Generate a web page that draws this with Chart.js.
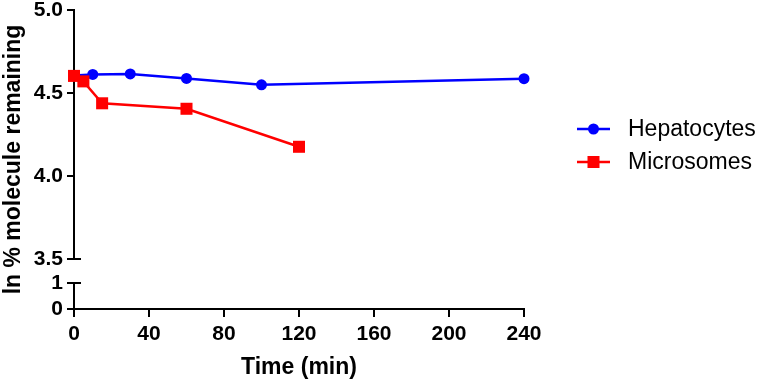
<!DOCTYPE html>
<html>
<head>
<meta charset="utf-8">
<script src="https://cdn.jsdelivr.net/npm/chart.js@4/dist/chart.umd.min.js"></script>
<style>
  html, body { margin: 0; padding: 0; background: #fff; }
</style>
</head>
<body>
<canvas id="timeChart" width="762" height="381"></canvas>
<script>
// values (ln of % remaining)
const hepTime = [0, 10, 30, 60, 100, 240];
const hepLn = [4.605, 4.612, 4.615, 4.588, 4.549, 4.586];
const micTime = [0, 5, 15, 60, 120];
const micLn = [4.603, 4.570, 4.438, 4.405, 4.176];
const seriesNames = ['Hepatocytes', 'Microsomes'];
const xTicks = [0, 40, 80, 120, 160, 200, 240];
const yTicksTop = [3.5, 4.0, 4.5, 5.0];
const yTicksLow = [0, 1];

const FONT = '"Liberation Sans", Arial, Helvetica, sans-serif';
const black = '#000';

// draws the lower axis piece, break caps, y title and the legend
const brokenAxis = {
  id: 'brokenAxis',
  afterDraw(chart) {
    const {ctx, chartArea, scales} = chart;
    const left = chartArea.left;
    const y1 = scales.yLow.getPixelForValue(1);
    const y0 = scales.yLow.getPixelForValue(0);
    const yb = scales.y.getPixelForValue(3.5);
    ctx.save();
    ctx.strokeStyle = black;
    ctx.lineWidth = 2;
    ctx.beginPath();
    ctx.moveTo(left, y1); ctx.lineTo(left, y0);
    ctx.moveTo(left - 7, yb); ctx.lineTo(left + 7, yb);
    ctx.moveTo(left - 7, y1); ctx.lineTo(left + 7, y1);
    ctx.stroke();

    // y title, centred on the whole broken axis
    ctx.translate(14, (scales.y.top + y0) / 2);
    ctx.rotate(-Math.PI / 2);
    ctx.font = 'bold 23px ' + FONT;
    ctx.fillStyle = black;
    ctx.textAlign = 'center';
    ctx.textBaseline = 'middle';
    ctx.fillText('ln % molecule remaining', 0, 0);
    ctx.restore();

    // legend
    ctx.save();
    ctx.font = '23px ' + FONT;
    ctx.textBaseline = 'middle';
    ctx.textAlign = 'left';
    chart.data.datasets.forEach((ds, i) => {
      const lx = chartArea.right + 53;
      const ly = 129 + i * 33;
      ctx.strokeStyle = ds.borderColor;
      ctx.fillStyle = ds.borderColor;
      ctx.lineWidth = ds.borderWidth;
      ctx.beginPath();
      ctx.moveTo(lx, ly); ctx.lineTo(lx + 33, ly);
      ctx.stroke();
      if (ds.pointStyle === 'rect') {
        ctx.fillRect(lx + 16.5 - 6, ly - 6, 12, 12);
      } else {
        ctx.beginPath();
        ctx.arc(lx + 16.5, ly, ds.pointRadius, 0, Math.PI * 2);
        ctx.fill();
      }
      ctx.fillStyle = black;
      ctx.fillText(ds.label, lx + 51, ly + 1);
    });
    ctx.restore();
  }
};

const tickFont = {family: FONT, size: 21, weight: 'bold'};

new Chart(document.getElementById('timeChart'), {
  type: 'line',
  data: {
    datasets: [{
      label: seriesNames[0],
      data: hepTime.map((t, i) => ({x: t, y: hepLn[i]})),
      borderColor: '#0000FF',
      backgroundColor: '#0000FF',
      borderWidth: 2.5,
      pointStyle: 'circle',
      pointRadius: 5.5,
      pointHoverRadius: 5.5,
      pointBorderWidth: 0,
      tension: 0,
      clip: false,
      yAxisID: 'y',
      order: 1
    }, {
      label: seriesNames[1],
      data: micTime.map((t, i) => ({x: t, y: micLn[i]})),
      borderColor: '#FF0000',
      backgroundColor: '#FF0000',
      borderWidth: 2.5,
      pointStyle: 'rect',
      pointRadius: 8.5,
      pointHoverRadius: 8.5,
      pointBorderWidth: 0,
      tension: 0,
      clip: false,
      yAxisID: 'y',
      order: 0
    }]
  },
  options: {
    responsive: false,
    animation: false,
    devicePixelRatio: 1,
    layout: { padding: {top: 10, right: 238, bottom: 0, left: 0} },
    plugins: { legend: {display: false}, tooltip: {enabled: false} },
    scales: {
      x: {
        type: 'linear',
        min: 0,
        max: 240,
        afterBuildTicks: s => { s.ticks = xTicks.map(v => ({value: v})); },
        border: {color: black, width: 2},
        grid: {drawOnChartArea: false, color: black, lineWidth: 2, tickLength: 8},
        ticks: {color: black, font: tickFont, padding: 5, maxRotation: 0},
        title: {display: true, text: 'Time (min)', color: black,
          font: {family: FONT, size: 23, weight: 'bold'}, padding: {top: 0, bottom: 0}},
        afterFit: s => { s.height = 72; s.paddingLeft = 0; s.paddingRight = 0; }
      },
      yLow: {
        type: 'linear',
        position: 'left',
        stack: 'ly',
        stackWeight: 50,
        min: 0,
        max: 1.92,
        afterBuildTicks: s => { s.ticks = yTicksLow.map(v => ({value: v})); },
        border: {display: false},
        grid: {drawOnChartArea: false, color: black, lineWidth: 2, tickLength: 7},
        ticks: {color: black, font: tickFont, padding: 4, callback: v => String(v)},
        afterFit: s => { s.width = 74; s.paddingTop = 0; s.paddingBottom = 0; }
      },
      y: {
        type: 'linear',
        position: 'left',
        stack: 'ly',
        stackWeight: 249,
        min: 3.5,
        max: 5.0,
        afterBuildTicks: s => { s.ticks = yTicksTop.map(v => ({value: v})); },
        border: {color: black, width: 2},
        grid: {drawOnChartArea: false, color: black, lineWidth: 2, tickLength: 7},
        ticks: {color: black, font: tickFont, padding: 4, callback: v => v.toFixed(1)},
        afterFit: s => { s.width = 74; s.paddingTop = 0; s.paddingBottom = 0; }
      }
    }
  },
  plugins: [brokenAxis]
});
</script>
</body>
</html>
